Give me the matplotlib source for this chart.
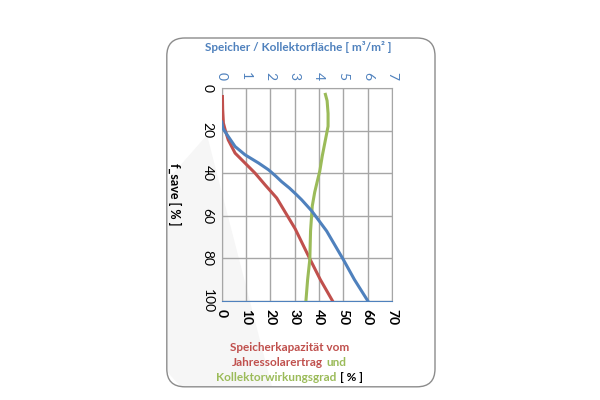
import matplotlib.pyplot as plt
from matplotlib.patches import FancyBboxPatch, Polygon

plt.rcParams['font.family'] = ['Lato', 'DejaVu Sans']

# f_save [%] on the (inverted) y axis
# blue: Speicher / Kollektorfläche [m3/m2] (top axis)
blue_y = [16, 19, 22.8, 27.5, 31.4, 35.3, 38.5, 41.5, 44, 47, 50, 52.6, 57.8, 67.2, 80.7, 90, 100]
blue_x = [0.0, 0.05, 0.27, 0.55, 0.96, 1.52, 1.93, 2.23, 2.46, 2.78, 3.06, 3.29, 3.7, 4.31, 5.0, 5.45, 6.0]

# red: Speicherkapazität vom Jahressolarertrag [%] (bottom axis)
red_y = [4, 10, 16.5, 20, 24.4, 30.6, 35.3, 40, 45.5, 51.7, 66.2, 80.5, 90, 100]
red_x = [0.3, 0.4, 0.7, 1.5, 2.7, 5.5, 9.6, 13.7, 17.8, 22.6, 30.2, 36.3, 40.5, 45.5]

# green: Kollektorwirkungsgrad [%] (bottom axis)
green_y = [3, 6, 12, 18, 25, 32, 39, 43.7, 49, 55.5, 67.2, 80.5, 90, 100]
green_x = [42.6, 43.3, 43.7, 43.7, 42.5, 41.3, 40.3, 39.3, 38.2, 37.2, 36.5, 36.2, 35.3, 34.6]

bottom_ticks = [0, 10, 20, 30, 40, 50, 60, 70]
top_ticks = [0, 1, 2, 3, 4, 5, 6, 7]
y_ticks = [0, 20, 40, 60, 80, 100]

c_blue = '#4F81BD'
c_red = '#C0504D'
c_green = '#9BBB59'

fig = plt.figure(figsize=(6, 4), dpi=100)

# light "reflection" area lower left, then the rounded frame on top
shade = Polygon([(0.279, 0.55), (0.345, 0.6625), (0.453, 0.035), (0.30, 0.035), (0.279, 0.07)],
                closed=True, transform=fig.transFigure, facecolor='#f6f6f6',
                edgecolor='none', zorder=0)
fig.patches.append(shade)
frame = FancyBboxPatch((0.278, 0.033), 0.447, 0.872, boxstyle='round,pad=0,rounding_size=0.03',
                       transform=fig.transFigure, facecolor='none', edgecolor='#8c8c8c',
                       linewidth=1.0, zorder=1, mutation_aspect=1.5)
fig.patches.append(frame)

ax = fig.add_axes([0.3695, 0.248, 0.284, 0.532], zorder=2)
ax.set_facecolor('none')
ax.set_xlim(0, 70)
ax.set_ylim(100, 0)
ax.set_xticks(bottom_ticks)
ax.set_yticks(y_ticks)
ax.set_xticklabels([str(t) for t in bottom_ticks], rotation=-90, fontsize=10, fontweight='bold')
ax.set_yticklabels([str(t) for t in y_ticks], rotation=-90, fontsize=10, va='center')
ax.tick_params(length=0, pad=6)
ax.grid(True, color='#a6a6a6', linewidth=1)
for s in ['left', 'right', 'top']:
    ax.spines[s].set_color('#a6a6a6')
ax.spines['bottom'].set_color(c_blue)

ax.plot(red_x, red_y, color=c_red, linewidth=2.2, zorder=3)
ax.plot(green_x, green_y, color=c_green, linewidth=2.2, zorder=3)

ax2 = ax.twiny()
ax2.set_xlim(0, 7)
ax2.set_xticks(top_ticks)
ax2.set_xticklabels([str(t) for t in top_ticks], rotation=-90, fontsize=10, color=c_blue)
ax2.tick_params(length=0, pad=6)
for s in ax2.spines.values():
    s.set_visible(False)
ax2.plot(blue_x, blue_y, color=c_blue, linewidth=2.2, zorder=3)

ax.set_ylabel('f_save [ % ]', rotation=-90, fontsize=9, fontweight='bold', labelpad=24, va='bottom')

fig.text(0.497, 0.883, 'Speicher / Kollektorfläche [ m³/m² ]', ha='center', va='center',
         color=c_blue, fontsize=8.5, fontweight='bold')

# multi-coloured caption below the chart, each line centred
fs = 8.5
caption = [
    [('Speicherkapazität vom', c_red)],
    [('Jahressolarertrag', c_red), ('und', c_green)],
    [('Kollektorwirkungsgrad', c_green), ('[ % ]', 'black')],
]
line_y = [0.122, 0.085, 0.048]
cx = 0.482
gap = 3.5 / 600
renderer = fig.canvas.get_renderer()
for parts, yy in zip(caption, line_y):
    texts = [fig.text(0, yy, s, color=c, fontsize=fs, fontweight='bold', va='baseline')
             for s, c in parts]
    widths = [t.get_window_extent(renderer).width / fig.bbox.width for t in texts]
    total = sum(widths) + gap * (len(texts) - 1)
    x = cx - total / 2
    for t, w in zip(texts, widths):
        t.set_x(x)
        x += w + gap

fig.savefig('out.png', dpi=100)
